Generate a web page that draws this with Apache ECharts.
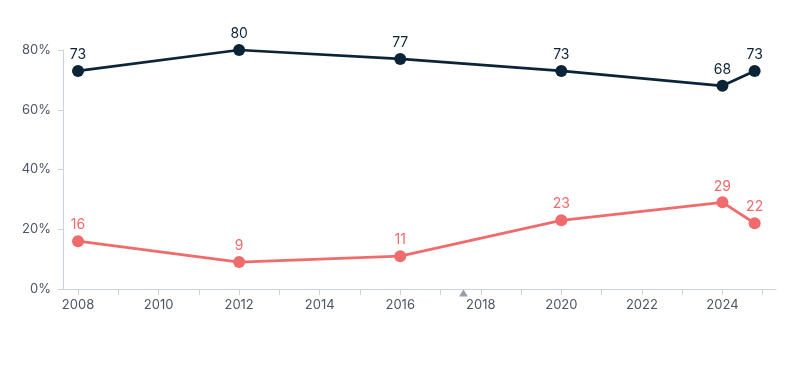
<!DOCTYPE html>
<html><head><meta charset="utf-8">
<script src="https://cdn.jsdelivr.net/npm/echarts@6/dist/echarts.min.js"></script>
<style>html,body{margin:0;padding:0;background:#fff}#c{width:800px;height:370px}</style>
</head><body><div id="c"></div>
<script>
const years = [2008, 2012, 2016, 2020, 2024, 2024.8];
const seriesDark = [73, 80, 77, 73, 68, 73];
const seriesRed = [16, 9, 11, 23, 29, 22];
const tickYears = [2008,2009,2010,2011,2012,2013,2014,2015,2016,2017,2018,2019,2020,2021,2022,2023,2024,2025];
const labelYears = [2008,2010,2012,2014,2016,2018,2020,2022,2024];
const yTicks = [0,20,40,60,80];
const markerYear = 2017.57;

const chart = echarts.init(document.getElementById('c'));
const font = 'Inter, "Noto Sans", sans-serif';
const axisGray = '#ccd3db';
const labelGray = '#4b5563';
chart.setOption({
  animation: false,
  grid: {left: 63, right: 24, top: 50, bottom: 81},
  xAxis: {
    type: 'value', min: 2007.627, max: 2025.33,
    axisLine: {lineStyle: {color: axisGray, width: 1}},
    axisTick: {show: true, customValues: tickYears, length: 6, lineStyle: {color: axisGray}},
    axisLabel: {customValues: labelYears, color: labelGray, fontFamily: font, fontSize: 13, margin: 10, formatter: v => String(v)},
    splitLine: {show: false}
  },
  yAxis: {
    type: 'value', min: 0, max: 80,
    axisLine: {show: true, lineStyle: {color: axisGray, width: 1}},
    axisTick: {show: true, customValues: yTicks, length: 5, lineStyle: {color: axisGray}},
    axisLabel: {customValues: yTicks, color: labelGray, fontFamily: font, fontSize: 13, margin: 12, formatter: v => v + '%'},
    splitLine: {show: false}
  },
  series: [
    {
      type: 'line', data: years.map((y, i) => [y, seriesDark[i]]),
      symbol: 'circle', symbolSize: 12,
      lineStyle: {color: '#0c2438', width: 2.75},
      itemStyle: {color: '#0c2438'},
      label: {show: true, position: 'top', distance: 3, color: '#0c2438', fontFamily: font, fontSize: 14, formatter: p => p.value[1]}
    },
    {
      type: 'line', data: years.map((y, i) => [y, seriesRed[i]]),
      symbol: 'circle', symbolSize: 12,
      lineStyle: {color: '#f06b6c', width: 2.75},
      itemStyle: {color: '#f06b6c'},
      label: {show: true, position: 'top', distance: 3, color: '#f06b6c', fontFamily: font, fontSize: 14, formatter: p => p.value[1]}
    },
    {
      type: 'scatter', data: [[markerYear, 0]], symbol: 'triangle', symbolSize: [9, 7],
      symbolOffset: [0, 4], clip: false, itemStyle: {color: '#7c8697'}, silent: true, z: 5
    }
  ]
});
</script></body></html>
